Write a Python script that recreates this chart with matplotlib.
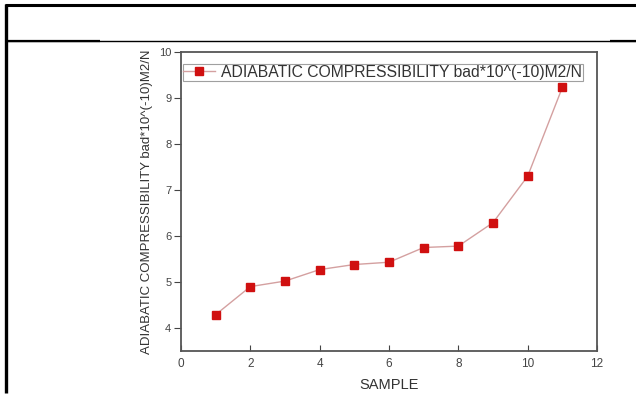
import matplotlib
matplotlib.use("Agg")
import matplotlib.pyplot as plt
from matplotlib.lines import Line2D

plt.rcParams['font.family'] = ['Liberation Sans', 'DejaVu Sans']

samples = [1, 2, 3, 4, 5, 6, 7, 8, 9, 10, 11]
compress = [4.29, 4.90, 5.02, 5.27, 5.38, 5.43, 5.75, 5.78, 6.29, 7.30, 9.23]
x_ticks = [0, 2, 4, 6, 8, 10, 12]
y_ticks = [4, 5, 6, 7, 8, 9, 10]
series_label = "ADIABATIC COMPRESSIBILITY bad*10^(-10)M2/N"

W, H = 636, 394
fig = plt.figure(figsize=(W / 100, H / 100), dpi=100)

# axes placement in pixels
left, right, top, bottom = 181, 597, 52, 351
ax = fig.add_axes([left / W, 1 - bottom / H, (right - left) / W, (bottom - top) / H])

ax.plot(samples, compress, color='#d4a0a0', lw=1.0, marker='s', ms=6,
        mfc='#d01010', mec='#d01010', label=series_label)
ax.set_xlim(0, 12)
ax.set_ylim(3.5, 10)
ax.set_xticks(x_ticks)
ax.set_yticks(y_ticks)
ax.tick_params(axis='x', direction='in', length=4, colors='#444444', labelsize=8.5, pad=5)
ax.tick_params(axis='y', direction='out', length=5, colors='#444444', labelsize=8, pad=2)
for s in ax.spines.values():
    s.set_color('#555555')
    s.set_linewidth(1.3)
ax.set_xlabel("SAMPLE", fontsize=10.5, color='#333333', labelpad=6)
ax.set_ylabel(series_label, fontsize=9.5, color='#333333', labelpad=4)

leg = ax.legend(loc='upper left', bbox_to_anchor=(0.0, 0.965), fontsize=11.3,
                frameon=True, fancybox=False, edgecolor='#888888',
                borderpad=0.05, handlelength=2.0, handletextpad=0.4,
                borderaxespad=0.1)
leg.get_frame().set_linewidth(0.8)
for t in leg.get_texts():
    t.set_color('#333333')

def fx(px):
    return px / W

def fy(py):
    return 1 - py / H

# outer table frame
fig.add_artist(Line2D([fx(5), fx(636)], [fy(4.5), fy(4.5)], color='black', lw=2.2,
                      solid_capstyle='butt'))
fig.add_artist(Line2D([fx(5.5), fx(5.5)], [fy(3.5), fy(393)], color='black', lw=2.4,
                      solid_capstyle='butt'))
fig.add_artist(Line2D([fx(5), fx(636)], [fy(40.5), fy(40.5)], color='black', lw=1.0,
                      solid_capstyle='butt'))
fig.add_artist(Line2D([fx(5), fx(100)], [fy(41), fy(41)], color='black', lw=1.6,
                      solid_capstyle='butt'))
fig.add_artist(Line2D([fx(610), fx(636)], [fy(41), fy(41)], color='black', lw=1.6,
                      solid_capstyle='butt'))

fig.savefig("out.png", dpi=100)
